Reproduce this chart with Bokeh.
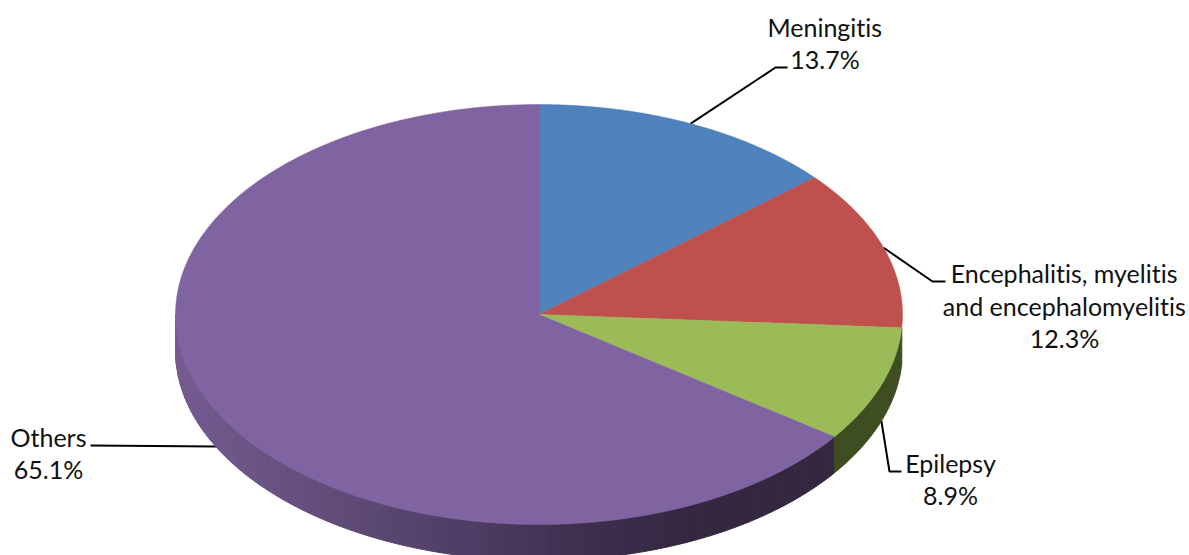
import numpy as np
from bokeh.plotting import figure
from bokeh.models import Range1d
from bokeh.core.properties import value
from bokeh.embed import file_html
from bokeh.resources import INLINE

categories = ["Meningitis", "Encephalitis, myelitis\nand encephalomyelitis", "Epilepsy", "Others"]
percents = [13.7, 12.3, 8.9, 65.1]
top_colors = ["#4F81BD", "#C0504D", "#9BBB59", "#8064A2"]
side_colors = [None, None, "#3F4D23", None]

CX, CY, RX, RY, DEPTH = 538.5, 314.0, 363.5, 210.0, 36.0
WIDTH, HEIGHT = 1189, 555
FONT = "Lato"
FONT_SIZE = "25px"


def rim(t, drop=0.0):
    return CX + RX * np.sin(t), CY - RY * np.cos(t) + drop


fractions = np.array(percents) / sum(percents)
edges = np.concatenate([[0.0], np.cumsum(fractions)]) * 2 * np.pi

p = figure(width=WIDTH, height=HEIGHT, output_backend="svg", toolbar_location=None,
           x_range=Range1d(0, WIDTH), y_range=Range1d(HEIGHT, 0),
           min_border=0, outline_line_color=None, margin=(0, 0, 0, 0),
           styles={"font-variant-ligatures": "none", "font-feature-settings": "'liga' 0"})
p.axis.visible = False
p.grid.visible = False
p.background_fill_color = "white"
p.border_fill_color = "white"

# leader lines go under the pie
label_elbows = [((775, 67), (787, 67)), ((932, 281), (945, 281)),
                ((889, 471), (901, 471)), ((215, 446), (90, 445))]
anchor_drop = [0.0, 0.0, DEPTH, DEPTH]
for i, elbow in enumerate(label_elbows):
    mid = (edges[i] + edges[i + 1]) / 2
    ax, ay = rim(mid, anchor_drop[i])
    xs = [ax] + [e[0] for e in elbow]
    ys = [ay] + [e[1] for e in elbow]
    p.line(xs, ys, line_color="black", line_width=2)

# side wall: purple gradient in strips, x -> colour
grad_x = [175, 300, 460, 600, 700, 835]
grad_r = [118, 102, 80, 60, 52, 52]
grad_g = [91, 81, 62, 46, 40, 40]
grad_b = [145, 126, 102, 76, 65, 65]


def gradient(x):
    return "#%02x%02x%02x" % (int(np.interp(x, grad_x, grad_r)),
                              int(np.interp(x, grad_x, grad_g)),
                              int(np.interp(x, grad_x, grad_b)))


# Others wall: from the slice's start angle round to the left edge
start = edges[3]
stop = 1.5 * np.pi
ts = np.linspace(start, stop, 121)
sx, sy, sc = [], [], []
for a, b in zip(ts[:-1], ts[1:]):
    x0, y0 = rim(a)
    x1, y1 = rim(b)
    sx.append([x0, x1, x1, x0])
    sy.append([y0, y1, y1 + DEPTH, y0 + DEPTH])
    c = gradient((x0 + x1) / 2)
    sc.append(c)
p.patches(sx, sy, fill_color=sc, line_color=sc, line_width=1)

# Epilepsy wall
ts = np.linspace(max(edges[2], 0), edges[3], 40)
x0, y0 = rim(ts)
p.patch(np.concatenate([x0, x0[::-1]]), np.concatenate([y0, y0[::-1] + DEPTH]),
        fill_color=side_colors[2], line_color=side_colors[2], line_width=1)

# top face
for i in range(4):
    ts = np.linspace(edges[i], edges[i + 1], 200)
    x, y = rim(ts)
    p.patch(np.concatenate([[CX], x]), np.concatenate([[CY], y]),
            fill_color=top_colors[i], line_color=top_colors[i], line_width=0.5)

# labels
label_x = [824.5, 1064, 950, 48]
label_y = [26, 272.5, 462, 436]
LINE = 32.5
tx, ty, tt = [], [], []
for i, cat in enumerate(categories):
    rows = cat.split("\n") + ["%.1f%%" % percents[i]]
    for j, row in enumerate(rows):
        tx.append(label_x[i])
        ty.append(label_y[i] + j * LINE)
        tt.append(row)
p.text(x=tx, y=ty, text=tt, text_font=value(FONT), text_font_size=value(FONT_SIZE),
       text_color="#111111", text_align="center", text_baseline="middle")

open("out.html", "w").write(file_html(p, INLINE))
